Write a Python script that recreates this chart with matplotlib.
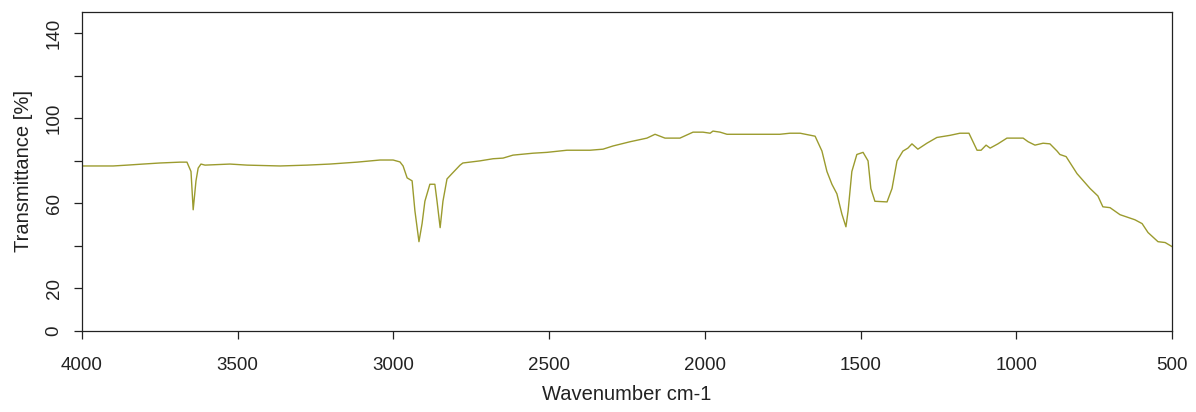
import numpy as np
import matplotlib
matplotlib.use("Agg")
import matplotlib.pyplot as plt

plt.rcParams['font.family'] = ['Liberation Sans', 'DejaVu Sans']

# IR spectrum (wavenumber in cm-1, transmittance in %)
wavenumber = [4000, 3900, 3855, 3804, 3750, 3685, 3663, 3650, 3643, 3634,
              3627, 3618, 3605, 3525, 3470, 3364, 3277, 3204, 3117, 3043,
              3001, 2979, 2969, 2956, 2940, 2931, 2918, 2908, 2899, 2883,
              2867, 2860, 2850, 2841, 2828, 2812, 2786, 2777, 2722, 2680,
              2648, 2616, 2552, 2507, 2443, 2369, 2327, 2295, 2240, 2186,
              2160, 2128, 2080, 2038, 2006, 1983, 1974, 1951, 1929, 1865,
              1759, 1727, 1694, 1646, 1624, 1608, 1592, 1576, 1560, 1547,
              1540, 1528, 1512, 1492, 1476, 1467, 1454, 1415, 1399, 1383,
              1364, 1348, 1335, 1316, 1287, 1255, 1213, 1181, 1152, 1126,
              1113, 1097, 1084, 1059, 1030, 978, 962, 940, 914, 892,
              869, 860, 840, 805, 763, 738, 722, 699, 667, 619,
              596, 577, 545, 522, 500]
transmittance = [77.6, 77.6, 78.0, 78.5, 79.0, 79.4, 79.4, 75.0, 57.0, 70.6,
                 76.6, 78.5, 78.0, 78.5, 78.0, 77.6, 78.0, 78.5, 79.4, 80.4,
                 80.4, 79.5, 77.6, 72.0, 70.6, 56.5, 42.0, 50.5, 61.0, 69.0,
                 69.0, 61.0, 48.6, 61.0, 71.5, 74.0, 78.0, 79.0, 80.0, 81.0,
                 81.3, 82.7, 83.6, 84.0, 85.0, 85.0, 85.5, 87.0, 89.0, 90.7,
                 92.5, 90.7, 90.7, 93.5, 93.5, 93.0, 94.0, 93.5, 92.5, 92.5,
                 92.5, 93.0, 93.0, 91.6, 84.6, 75.0, 69.0, 64.5, 55.0, 49.0,
                 56.5, 75.0, 83.0, 84.0, 80.0, 67.0, 61.0, 60.7, 67.0, 80.0,
                 84.6, 86.0, 88.0, 85.5, 88.3, 91.0, 92.0, 93.0, 93.0, 85.0,
                 85.0, 87.4, 86.0, 88.0, 90.7, 90.7, 89.0, 87.4, 88.3, 88.0,
                 84.6, 83.0, 82.0, 74.0, 67.0, 63.5, 58.4, 58.0, 54.7, 52.3,
                 50.5, 46.3, 42.0, 41.6, 39.7]

x_ticks = [4000, 3500, 3000, 2500, 2000, 1500, 1000, 500]
y_ticks = [0, 20, 40, 60, 80, 100, 120, 140]
y_tick_labels = ["0", "20", "", "60", "", "100", "", "140"]

fig = plt.figure(figsize=(11.96, 4.12), dpi=100)
ax = fig.add_axes([82 / 1196, 1 - 331 / 412, 1090 / 1196, 319 / 412])

ax.plot(wavenumber, transmittance, color="#9b9b2e", lw=1.0)

ax.set_xlim(4000, 500)
ax.set_ylim(0, 150)
ax.set_xticks(x_ticks)
ax.set_xticklabels([str(v) for v in x_ticks])
ax.set_yticks(y_ticks)
ax.set_yticklabels(y_tick_labels, rotation=90, va="center")

ax.tick_params(direction="out", length=6, width=0.9, labelsize=13.5, colors="#222222")
ax.tick_params(axis="x", pad=13)
ax.tick_params(axis="y", pad=8)
for s in ax.spines.values():
    s.set_color("#222222")
    s.set_linewidth(0.9)

ax.set_xlabel("Wavenumber cm-1", fontsize=14.5, color="#222222", labelpad=8)
ax.set_ylabel("Transmittance [%]", fontsize=14.5, color="#222222", labelpad=9)

fig.savefig("out.png", dpi=100)
